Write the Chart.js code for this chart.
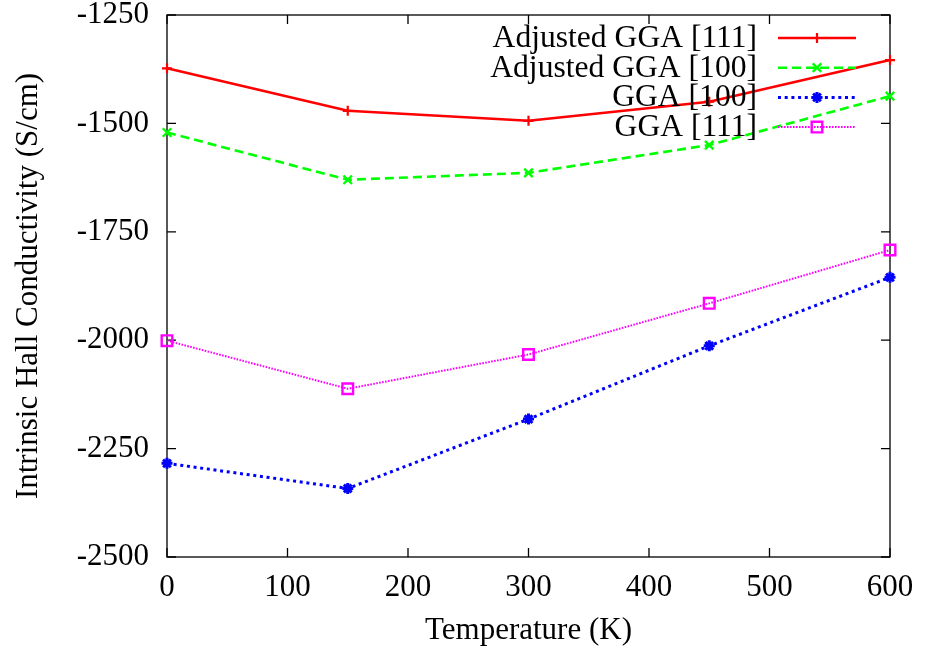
<!DOCTYPE html>
<html><head><meta charset="utf-8">
<script src="https://cdn.jsdelivr.net/npm/chart.js@4.4.1/dist/chart.umd.min.js"></script>
<style>html,body{margin:0;padding:0;background:#fff}#wrap{width:926px;height:653px}</style>
</head><body><div id="wrap"><canvas id="c" width="926" height="653"></canvas></div>
<script>
// ---- data ----
const temperatures = [0, 150, 300, 450, 600];
const adjustedGGA111 = [-1373, -1471, -1494, -1450, -1354];
const adjustedGGA100 = [-1521, -1630, -1614, -1550, -1437];
const gga100 = [-2284, -2342, -2182, -2013, -1855];
const gga111 = [-2001, -2112, -2033, -1915, -1792];
const seriesNames = ['Adjusted GGA [111]', 'Adjusted GGA [100]', 'GGA [100]', 'GGA [111]'];
const xTickValues = [0, 100, 200, 300, 400, 500, 600];
const yTickValues = [-2500, -2250, -2000, -1750, -1500, -1250];
const xTitle = 'Temperature (K)';
const yTitle = 'Intrinsic Hall Conductivity (S/cm)';

const FONT = "'Liberation Serif', 'Times New Roman', 'DejaVu Serif', serif";
Chart.defaults.font.family = FONT;
Chart.defaults.color = '#000';

function pts(vals) { return temperatures.map((t, i) => ({ x: t, y: vals[i] })); }

const styles = [
  { color: '#ff0000', width: 2.6, dash: [], point: 'cross', radius: 5, pbw: 2.2 },
  { color: '#00ff00', width: 2.6, dash: [9, 5], point: 'crossRot', radius: 6, pbw: 2.4 },
  { color: '#0000ff', width: 3, dash: [3, 3.7], point: 'star', radius: 5.5, pbw: 3 },
  { color: '#ff00ff', width: 2, dash: [1.6, 1.4], point: 'rect', radius: 7.5, pbw: 2.4 }
];
const seriesValues = [adjustedGGA111, adjustedGGA100, gga100, gga111];

const datasets = seriesValues.map((v, i) => ({
  label: seriesNames[i],
  data: pts(v),
  borderColor: styles[i].color,
  backgroundColor: 'rgba(0,0,0,0)',
  borderWidth: styles[i].width,
  borderDash: styles[i].dash,
  pointStyle: styles[i].point,
  pointRadius: styles[i].radius,
  pointBorderWidth: styles[i].pbw,
  pointBorderColor: styles[i].color,
  pointBackgroundColor: 'rgba(0,0,0,0)',
  tension: 0,
  clip: false
}));

function drawMarker(ctx, style, r, x, y, color, bw) {
  ctx.save();
  ctx.setLineDash([]);
  ctx.strokeStyle = color;
  ctx.lineWidth = bw;
  ctx.beginPath();
  if (style === 'cross' || style === 'star') {
    ctx.moveTo(x - r, y); ctx.lineTo(x + r, y);
    ctx.moveTo(x, y - r); ctx.lineTo(x, y + r);
  }
  if (style === 'crossRot' || style === 'star') {
    const d = r * Math.SQRT1_2;
    ctx.moveTo(x - d, y - d); ctx.lineTo(x + d, y + d);
    ctx.moveTo(x - d, y + d); ctx.lineTo(x + d, y - d);
  }
  if (style === 'rect') {
    const s = r * Math.SQRT1_2;
    ctx.rect(x - s, y - s, 2 * s, 2 * s);
  }
  ctx.stroke();
  ctx.restore();
}

const framePlugin = {
  id: 'frame',
  beforeDatasetsDraw(chart) {
    const { ctx, chartArea: a, scales } = chart;
    ctx.save();
    ctx.strokeStyle = '#000';
    ctx.lineWidth = 1.3;
    ctx.setLineDash([]);
    ctx.strokeRect(a.left, a.top, a.right - a.left, a.bottom - a.top);
    const tl = 9;
    ctx.beginPath();
    xTickValues.forEach(v => {
      const x = scales.x.getPixelForValue(v);
      ctx.moveTo(x, a.bottom); ctx.lineTo(x, a.bottom - tl);
      ctx.moveTo(x, a.top); ctx.lineTo(x, a.top + tl);
    });
    yTickValues.forEach(v => {
      const y = scales.y.getPixelForValue(v);
      ctx.moveTo(a.left, y); ctx.lineTo(a.left + tl, y);
      ctx.moveTo(a.right, y); ctx.lineTo(a.right - tl, y);
    });
    ctx.stroke();
    ctx.restore();
  },
  afterDatasetsDraw(chart) {
    const { ctx } = chart;
    ctx.save();
    ctx.font = '31.6px ' + FONT;
    ctx.textAlign = 'right';
    ctx.textBaseline = 'alphabetic';
    ctx.fillStyle = '#000';
    seriesNames.forEach((name, i) => {
      const y = 38 + 29.7 * i;
      const st = styles[i];
      ctx.fillText(name, 757, y + 9);
      ctx.strokeStyle = st.color;
      ctx.lineWidth = st.width;
      ctx.setLineDash(st.dash);
      ctx.beginPath();
      ctx.moveTo(778, y); ctx.lineTo(856, y);
      ctx.stroke();
      drawMarker(ctx, st.point, st.radius, 817, y, st.color, st.pbw);
    });
    ctx.restore();
  }
};

new Chart(document.getElementById('c'), {
  type: 'line',
  data: { datasets },
  options: {
    responsive: false,
    devicePixelRatio: 1,
    animation: false,
    layout: { padding: { top: 15, right: 36, bottom: 0, left: 0 } },
    plugins: { legend: { display: false }, tooltip: { enabled: false } },
    scales: {
      x: {
        type: 'linear', min: 0, max: 600,
        afterBuildTicks: s => { s.ticks = xTickValues.map(v => ({ value: v })); },
        afterFit: s => { s.height = 96; s.paddingLeft = 0; s.paddingRight = 0; },
        grid: { display: false, drawTicks: false },
        border: { display: false },
        ticks: { font: { size: 31 }, padding: 12, maxRotation: 0, autoSkip: false, color: '#000',
                 callback: v => String(v) },
        title: { display: true, text: xTitle, font: { size: 31 }, padding: { top: 0, bottom: 4 }, color: '#000' }
      },
      y: {
        type: 'linear', min: -2500, max: -1250,
        afterBuildTicks: s => { s.ticks = yTickValues.map(v => ({ value: v })); },
        afterFit: s => { s.width = 167; s.paddingTop = 0; s.paddingBottom = 0; },
        grid: { display: false, drawTicks: false },
        border: { display: false },
        ticks: { font: { size: 31 }, padding: 18, autoSkip: false, color: '#000',
                 callback: v => String(v) },
        title: { display: true, text: yTitle, font: { size: 31 }, padding: { top: 10, bottom: 0 }, color: '#000' }
      }
    }
  },
  plugins: [framePlugin]
});
</script>
</body></html>
